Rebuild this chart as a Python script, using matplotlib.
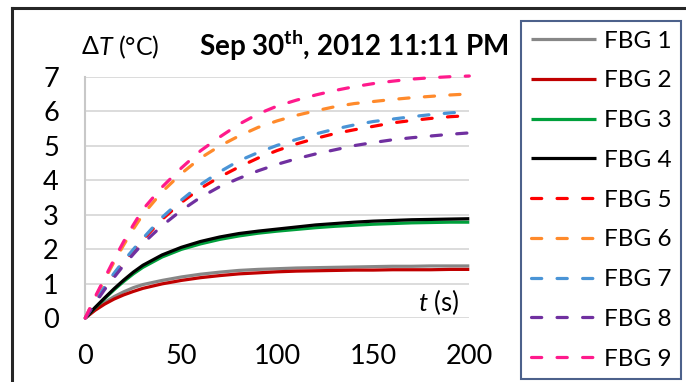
import matplotlib
matplotlib.use("Agg")
import matplotlib.pyplot as plt
from matplotlib.lines import Line2D

FONT = "Lato"
plt.rcParams['font.family'] = [FONT, 'DejaVu Sans']
plt.rcParams['mathtext.fontset'] = 'custom'
plt.rcParams['mathtext.rm'] = FONT
plt.rcParams['mathtext.it'] = FONT + ':italic'
plt.rcParams['mathtext.bf'] = FONT + ':bold'

# ---- data ----
t = [0, 5, 10, 15, 20, 25, 30, 40, 50, 60, 70, 80, 90, 100, 110, 120, 130, 140, 150, 160, 170, 180, 190, 200]

fbg1 = [0, 0.25, 0.45, 0.62, 0.76, 0.88, 0.97, 1.09, 1.19, 1.27, 1.33, 1.38, 1.41, 1.43, 1.45, 1.46, 1.47, 1.48, 1.49, 1.50, 1.50, 1.51, 1.51, 1.51]
fbg2 = [0, 0.22, 0.40, 0.55, 0.67, 0.77, 0.86, 0.99, 1.09, 1.17, 1.23, 1.28, 1.31, 1.34, 1.36, 1.37, 1.38, 1.39, 1.39, 1.40, 1.40, 1.40, 1.41, 1.41]
fbg3 = [0, 0.29, 0.56, 0.82, 1.06, 1.28, 1.47, 1.77, 1.99, 2.15, 2.28, 2.38, 2.46, 2.52, 2.57, 2.62, 2.66, 2.69, 2.72, 2.74, 2.76, 2.77, 2.78, 2.78]
fbg4 = [0, 0.30, 0.58, 0.85, 1.10, 1.33, 1.53, 1.83, 2.05, 2.22, 2.35, 2.45, 2.52, 2.58, 2.64, 2.70, 2.74, 2.78, 2.81, 2.83, 2.85, 2.86, 2.87, 2.88]
fbg5 = [0, 0.44, 0.88, 1.27, 1.62, 1.95, 2.27, 2.86, 3.35, 3.76, 4.09, 4.38, 4.64, 4.86, 5.05, 5.21, 5.35, 5.46, 5.56, 5.66, 5.73, 5.79, 5.84, 5.87]
fbg6 = [0, 0.58, 1.10, 1.63, 2.12, 2.58, 3.00, 3.66, 4.19, 4.64, 4.99, 5.28, 5.53, 5.72, 5.88, 6.01, 6.13, 6.22, 6.28, 6.34, 6.39, 6.43, 6.47, 6.50]
fbg7 = [0, 0.45, 0.90, 1.30, 1.66, 1.99, 2.31, 2.92, 3.42, 3.87, 4.24, 4.56, 4.80, 5.01, 5.18, 5.34, 5.48, 5.60, 5.70, 5.77, 5.84, 5.90, 5.95, 5.99]
fbg8 = [0, 0.42, 0.82, 1.18, 1.53, 1.85, 2.16, 2.68, 3.12, 3.50, 3.81, 4.05, 4.27, 4.46, 4.62, 4.76, 4.88, 5.00, 5.09, 5.17, 5.23, 5.28, 5.33, 5.37]
fbg9 = [0, 0.60, 1.15, 1.70, 2.22, 2.70, 3.15, 3.80, 4.35, 4.85, 5.25, 5.62, 5.92, 6.15, 6.32, 6.47, 6.60, 6.71, 6.80, 6.87, 6.93, 6.97, 7.00, 7.02]

labels = ["FBG 1", "FBG 2", "FBG 3", "FBG 4", "FBG 5", "FBG 6", "FBG 7", "FBG 8", "FBG 9"]
series = [fbg1, fbg2, fbg3, fbg4, fbg5, fbg6, fbg7, fbg8, fbg9]
colors = ["#878787", "#c00000", "#00a03c", "#000000", "#ff0000", "#ff8a2b", "#4a94d6", "#7030a0", "#ff1a8c"]
styles = ["solid"] * 4 + ["dashed"] * 5

xticks = [0, 50, 100, 150, 200]
yticks = [0, 1, 2, 3, 4, 5, 6, 7]

W, H = 686, 382
fig = plt.figure(figsize=(W / 100, H / 100), dpi=100)
L, R, T, B = 85.3, 469.3, 76.7, 318.0
ax = fig.add_axes([L / W, 1 - B / H, (R - L) / W, (B - T) / H])

lw = 2.3
handles = []
for y, c, s, lab in zip(series, colors, styles, labels):
    if s == "dashed":
        ln, = ax.plot(t, y, color=c, lw=lw, dashes=(3.2, 4.8), dash_capstyle='round',
                      clip_on=False, label=lab, zorder=3)
    else:
        ln, = ax.plot(t, y, color=c, lw=lw, solid_capstyle='butt', solid_joinstyle='round',
                      clip_on=False, label=lab, zorder=3)
    handles.append(ln)

ax.set_xlim(0, 200)
ax.set_ylim(0, 7)
ax.set_xticks(xticks)
ax.set_yticks(yticks)
ax.grid(axis='y', color='#d9d9d9', lw=1.3, zorder=0)
ax.set_axisbelow(True)
for sp in ['top', 'right', 'bottom']:
    ax.spines[sp].set_visible(False)
ax.spines['left'].set_color('#c8c8c8')
ax.spines['left'].set_linewidth(1.5)
ax.tick_params(axis='both', length=0, labelsize=19.5, colors='#000000')
ax.tick_params(axis='y', pad=19)
ax.tick_params(axis='x', pad=19)

# axis labels / title
fig.text(82 / W, 1 - 47 / H, "Δ", fontsize=18, ha='left', va='center')
fig.text(98 / W, 1 - 47 / H, r"$\mathit{T}$ (°C)", fontsize=18, ha='left', va='center')
fig.text(199 / W, 1 - 46 / H, r"Sep 30$^{\mathbf{th}}$, 2012 11:11 PM", fontsize=20,
         fontweight='bold', ha='left', va='center')
ax.text(195, 0.47, r"$\mathit{t}$ (s)", fontsize=18.5, ha='right', va='center')

# outer frame
fig.add_artist(Line2D([12 / W, 12 / W], [0, 1 - 8 / H], color='#262626', lw=2.2,
                      transform=fig.transFigure, solid_capstyle='projecting'))
fig.add_artist(Line2D([12 / W, 1], [1 - 8 / H, 1 - 8 / H], color='#262626', lw=2.2,
                      transform=fig.transFigure, solid_capstyle='projecting'))

leg = fig.legend(handles=handles, loc='upper left', bbox_to_anchor=(521 / W, 1 - 21 / H),
                 bbox_transform=fig.transFigure, borderaxespad=0, frameon=True,
                 fancybox=False, edgecolor='#1f3a6e', fontsize=17.5, handlelength=2.67,
                 handletextpad=0.33, labelspacing=0.77, borderpad=0.4)
leg.get_frame().set_linewidth(1.5)

fig.savefig("out.png", dpi=100)
